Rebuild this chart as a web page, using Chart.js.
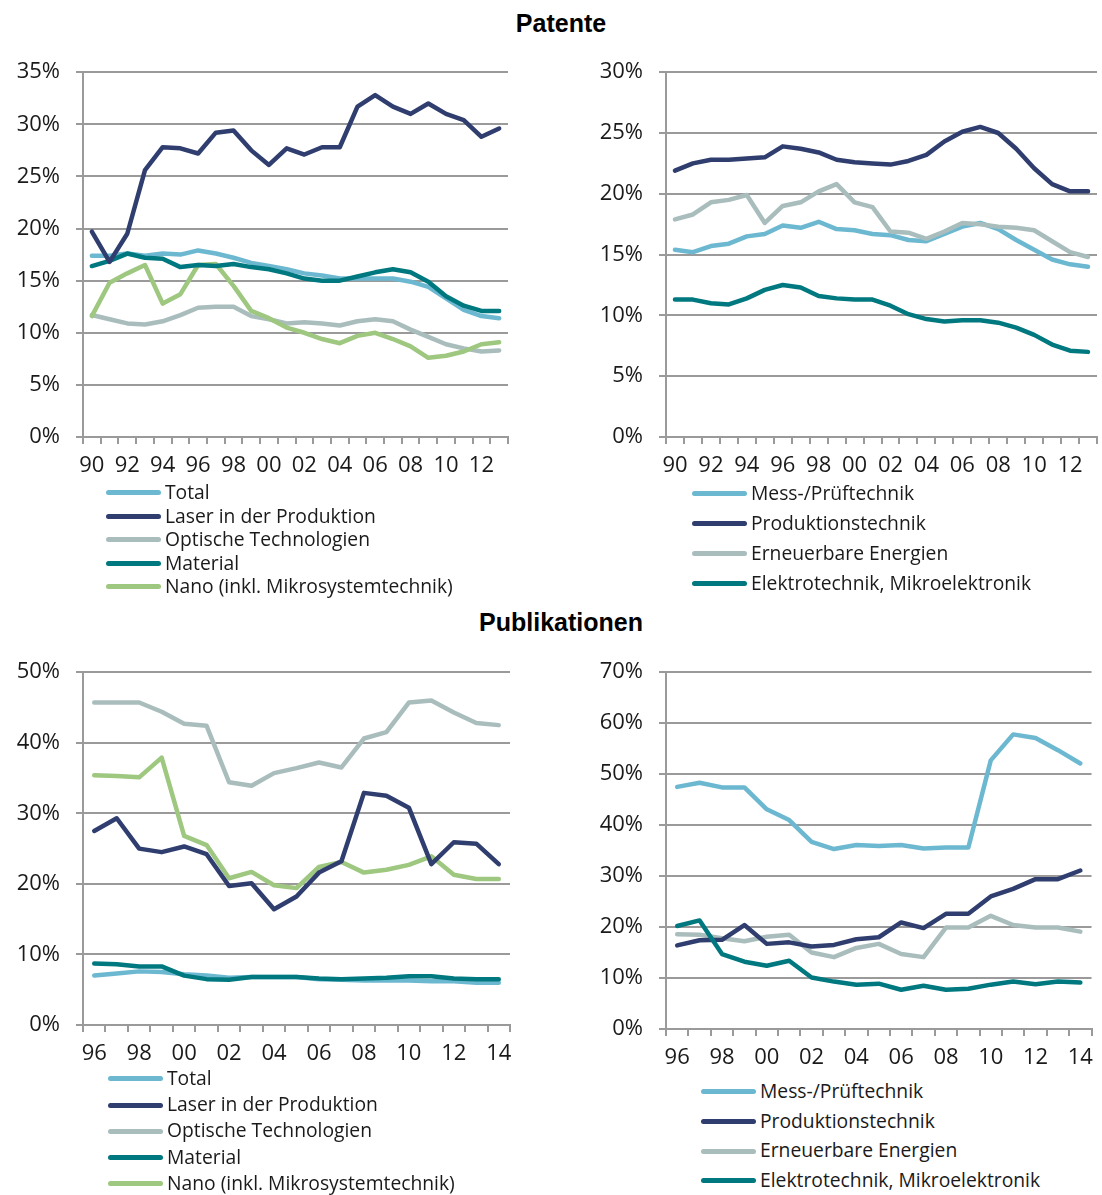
<!DOCTYPE html>
<html>
<head>
<meta charset="utf-8">
<script src="https://cdn.jsdelivr.net/npm/chart.js@4/dist/chart.umd.min.js"></script>
<style>
body { margin:0; background:#fff; width:1102px; height:1195px; position:relative; overflow:hidden; font-family:"Open Sans", sans-serif; }
.title { position:absolute; left:0; width:1122px; text-align:center; font:bold 25px "Liberation Sans", Arial, sans-serif; line-height:28px; color:#000; }
.box { position:absolute; }
.legend { position:absolute; font-size:19.3px; color:#1a1a1a; }
.legend div { white-space:nowrap; }
.legend .sw { display:inline-block; width:55px; height:5px; border-radius:3px; vertical-align:middle; margin-right:4px; position:relative; top:-1px; }
</style>
</head>
<body>
<div class="title" style="top:9px">Patente</div>
<div class="title" style="top:608px">Publikationen</div>

<div class="box" style="left:0;top:43px;width:530px;height:438px"><canvas id="patLeft"></canvas></div>
<div class="box" style="left:590px;top:43px;width:512px;height:438px"><canvas id="patRight"></canvas></div>
<div class="box" style="left:0;top:643px;width:530px;height:426px"><canvas id="pubLeft"></canvas></div>
<div class="box" style="left:590px;top:643px;width:512px;height:430px"><canvas id="pubRight"></canvas></div>

<div class="legend" id="legPatLeft" style="left:106px;top:480px;line-height:23.5px"></div>
<div class="legend" id="legPatRight" style="left:692px;top:478px;line-height:30px"></div>
<div class="legend" id="legPubLeft" style="left:108px;top:1065px;line-height:26.2px"></div>
<div class="legend" id="legPubRight" style="left:701px;top:1076px;line-height:29.7px"></div>

<script>
"use strict"

// x-axis labels
var patYears = ['90','91','92','93','94','95','96','97','98','99','00','01','02','03','04','05','06','07','08','09','10','11','12','13'];
var pubYears = ['96','97','98','99','00','01','02','03','04','05','06','07','08','09','10','11','12','13','14'];

// Patente, left (%)
var patTotal    = [17.4,17.4,17.6,17.4,17.6,17.5,17.9,17.6,17.2,16.7,16.4,16.1,15.7,15.5,15.2,15.2,15.2,15.2,14.9,14.4,13.3,12.2,11.6,11.4];
var patLaser    = [19.7,16.8,19.5,25.6,27.8,27.7,27.2,29.2,29.4,27.5,26.1,27.7,27.1,27.8,27.8,31.7,32.8,31.7,31.0,32.0,31.0,30.4,28.8,29.6];
var patOptik    = [11.7,11.3,10.9,10.8,11.1,11.7,12.4,12.5,12.5,11.6,11.3,10.9,11.0,10.9,10.7,11.1,11.3,11.1,10.3,9.6,8.9,8.5,8.2,8.3];
var patMaterial = [16.4,16.9,17.6,17.2,17.1,16.3,16.5,16.4,16.6,16.3,16.1,15.7,15.2,15.0,15.0,15.4,15.8,16.1,15.8,14.9,13.5,12.6,12.1,12.1];
var patNano     = [11.6,14.8,15.7,16.5,12.8,13.7,16.5,16.6,14.5,12.1,11.4,10.5,10.0,9.4,9.0,9.7,10.0,9.4,8.7,7.6,7.8,8.2,8.9,9.1];

// Patente, right (%)
var patMess      = [15.4,15.2,15.7,15.9,16.5,16.7,17.4,17.2,17.7,17.1,17.0,16.7,16.6,16.2,16.1,16.7,17.3,17.6,17.1,16.2,15.4,14.6,14.2,14.0];
var patProd      = [21.9,22.5,22.8,22.8,22.9,23.0,23.9,23.7,23.4,22.8,22.6,22.5,22.4,22.7,23.2,24.3,25.1,25.5,25.0,23.7,22.1,20.8,20.2,20.2];
var patErneuerbar = [17.9,18.3,19.3,19.5,19.9,17.6,19.0,19.3,20.2,20.8,19.3,18.9,16.9,16.8,16.3,16.9,17.6,17.5,17.3,17.2,17.0,16.1,15.2,14.8];
var patElektro   = [11.3,11.3,11.0,10.9,11.4,12.1,12.5,12.3,11.6,11.4,11.3,11.3,10.8,10.1,9.7,9.5,9.6,9.6,9.4,9.0,8.4,7.6,7.1,7.0];

// Publikationen, left (%)
var pubTotal    = [7.0,7.3,7.6,7.5,7.2,7.0,6.7,6.8,6.8,6.8,6.5,6.4,6.3,6.3,6.3,6.2,6.2,6.0,6.0];
var pubLaser    = [27.5,29.3,25.0,24.5,25.3,24.2,19.7,20.1,16.4,18.2,21.6,23.2,32.9,32.5,30.8,22.8,25.9,25.7,22.8];
var pubOptik    = [45.7,45.7,45.7,44.4,42.7,42.4,34.4,33.9,35.7,36.4,37.2,36.5,40.6,41.5,45.7,46.0,44.3,42.8,42.5];
var pubMaterial = [8.7,8.6,8.3,8.3,7.0,6.5,6.4,6.8,6.8,6.8,6.6,6.5,6.6,6.7,6.9,6.9,6.6,6.5,6.5];
var pubNano     = [35.4,35.3,35.1,37.9,26.8,25.5,20.8,21.7,19.8,19.4,22.4,23.1,21.6,22.0,22.7,23.9,21.3,20.7,20.7];

// Publikationen, right (%)
var pubMess      = [47.5,48.3,47.4,47.4,43.1,41.0,36.7,35.3,36.1,35.9,36.1,35.4,35.6,35.6,52.7,57.8,57.1,54.7,52.1];
var pubProd      = [16.4,17.4,17.5,20.4,16.7,17.0,16.2,16.5,17.6,18.0,20.9,19.8,22.6,22.6,26.0,27.5,29.4,29.4,31.1];
var pubErneuerbar = [18.6,18.5,17.8,17.2,18.1,18.5,15.0,14.1,15.9,16.7,14.7,14.1,19.9,19.9,22.2,20.4,19.9,19.9,19.1];
var pubElektro   = [20.2,21.3,14.7,13.2,12.4,13.4,10.1,9.3,8.7,8.9,7.7,8.5,7.7,7.9,8.7,9.3,8.8,9.3,9.1];

var LIGHT = '#6db8d1', NAVY = '#2f3e6e', GRAY = '#aabdbd', TEAL = '#00787f', GREEN = '#9ec77f';
var GRID = '#9a9a9a';
var TICK_FONT = { family: '"Open Sans", sans-serif', size: 22 };

function series(label, data, color, order) {
    return {
        label: label,
        data: data,
        borderColor: color,
        backgroundColor: color,
        borderWidth: 4.5,
        pointRadius: 0,
        tension: 0,
        fill: false,
        borderJoinStyle: 'round',
        borderCapStyle: 'round',
        order: order
    };
}

function makeChart(id, labels, datasets, max, step, yWidth, pad) {
    return new Chart(document.getElementById(id), {
        type: 'line',
        data: { labels: labels, datasets: datasets },
        options: {
            responsive: true,
            maintainAspectRatio: false,
            animation: false,
            layout: { padding: pad },
            plugins: { legend: { display: false }, tooltip: { enabled: false } },
            scales: {
                x: {
                    offset: true,
                    grid: { offset: true, drawOnChartArea: false, drawTicks: true, tickLength: 7, color: GRID, lineWidth: 2 },
                    border: { display: true, color: GRID, width: 2 },
                    ticks: {
                        autoSkip: false, maxRotation: 0, padding: 9, color: '#1a1a1a', font: TICK_FONT,
                        callback: function(v, i) { return i % 2 === 0 ? labels[i] : ''; }
                    },
                    afterFit: function(s) { s.height = 44; }
                },
                y: {
                    min: 0, max: max,
                    grid: { color: GRID, lineWidth: 2, tickLength: 7 },
                    border: { display: true, color: GRID, width: 2 },
                    ticks: {
                        stepSize: step, padding: 16, color: '#1a1a1a', font: TICK_FONT,
                        callback: function(v) { return v + '%'; }
                    },
                    afterFit: function(s) { s.width = yWidth; }
                }
            }
        }
    });
}

function makeLegend(id, datasets) {
    var el = document.getElementById(id);
    var sorted = datasets.slice().sort(function(a, b) { return a.legendIndex - b.legendIndex; });
    sorted.forEach(function(d) {
        var row = document.createElement('div');
        var sw = document.createElement('span');
        sw.className = 'sw';
        sw.style.background = d.borderColor;
        row.appendChild(sw);
        row.appendChild(document.createTextNode(d.label));
        el.appendChild(row);
    });
}

var patLeftSets = [
    series('Total', patTotal, LIGHT, 2),
    series('Laser in der Produktion', patLaser, NAVY, 0),
    series('Optische Technologien', patOptik, GRAY, 4),
    series('Material', patMaterial, TEAL, 1),
    series('Nano (inkl. Mikrosystemtechnik)', patNano, GREEN, 3)
];
var patRightSets = [
    series('Mess-/Prüftechnik', patMess, LIGHT, 2),
    series('Produktionstechnik', patProd, NAVY, 0),
    series('Erneuerbare Energien', patErneuerbar, GRAY, 1),
    series('Elektrotechnik, Mikroelektronik', patElektro, TEAL, 3)
];
var pubLeftSets = [
    series('Total', pubTotal, LIGHT, 4),
    series('Laser in der Produktion', pubLaser, NAVY, 0),
    series('Optische Technologien', pubOptik, GRAY, 3),
    series('Material', pubMaterial, TEAL, 2),
    series('Nano (inkl. Mikrosystemtechnik)', pubNano, GREEN, 1)
];
var pubRightSets = [
    series('Mess-/Prüftechnik', pubMess, LIGHT, 2),
    series('Produktionstechnik', pubProd, NAVY, 1),
    series('Erneuerbare Energien', pubErneuerbar, GRAY, 3),
    series('Elektrotechnik, Mikroelektronik', pubElektro, TEAL, 0)
];
[patLeftSets, patRightSets, pubLeftSets, pubRightSets].forEach(function(sets) {
    sets.forEach(function(d, i) { d.legendIndex = i; });
});

makeChart('patLeft', patYears, patLeftSets, 35, 5, 83, { top: 13, right: 22, left: 0, bottom: 0 });
makeChart('patRight', patYears, patRightSets, 30, 5, 76, { top: 13, right: 5, left: 0, bottom: 0 });
makeChart('pubLeft', pubYears, pubLeftSets, 50, 10, 83, { top: 13, right: 20, left: 0, bottom: 0 });
makeChart('pubRight', pubYears, pubRightSets, 70, 10, 76, { top: 13, right: 3, left: 0, bottom: 0 });

makeLegend('legPatLeft', patLeftSets);
makeLegend('legPatRight', patRightSets);
makeLegend('legPubLeft', pubLeftSets);
makeLegend('legPubRight', pubRightSets);
</script>
</body>
</html>
